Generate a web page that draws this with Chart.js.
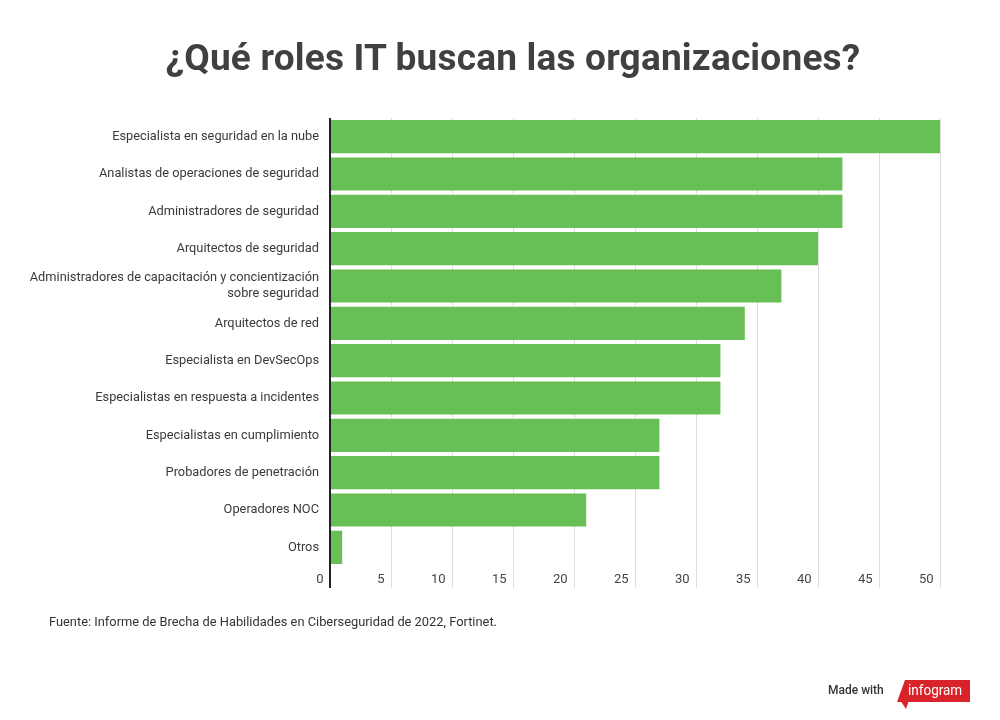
<!DOCTYPE html>
<html>
<head>
<meta charset="utf-8">
<script src="https://cdn.jsdelivr.net/npm/chart.js@4"></script>
<style>
  body { margin: 0; background: #fff; font-family: Roboto, sans-serif; }
  #wrap { position: relative; width: 1000px; height: 720px; overflow: hidden; }
  #title { position: absolute; top: 36px; left: 13px; width: 1000px; text-align: center;
           font: bold 37px Roboto, sans-serif; color: #404040; letter-spacing: 0.2px; }
  #source { position: absolute; left: 49px; top: 614px; font: 12.85px Roboto, sans-serif; color: #333; }
  #made { position: absolute; left: 828px; top: 683px; font: 500 12px Roboto, sans-serif; color: #333; }
  #logo { position: absolute; left: 897px; top: 680px; width: 73px; height: 22px; background: #d8232a;
          clip-path: polygon(8px 0, 73px 0, 73px 22px, 0 22px); }
  #tail { position: absolute; left: 900px; top: 700px; width: 0; height: 0; border-left: 6px solid transparent;
          border-right: 3px solid transparent; border-top: 9px solid #d8232a; }
  #logo span { position: absolute; left: 11px; top: 1px; font: 15px "Roboto", sans-serif; color: #fff; transform: scaleX(0.9); transform-origin: 0 0; }
  canvas { position: absolute; left: 0; top: 0; }
</style>
</head>
<body>
<div id="wrap">
  <canvas id="chart" width="1000" height="720"></canvas>
  <div id="title">¿Qué roles IT buscan las organizaciones?</div>
  <div id="source">Fuente: Informe de Brecha de Habilidades en Ciberseguridad de 2022, Fortinet.</div>
  <div id="made">Made with</div>
  <div id="logo"><span>infogram</span></div>
  <div id="tail"></div>
</div>
<script>
const roles = [
  "Especialista en seguridad en la nube",
  "Analistas de operaciones de seguridad",
  "Administradores de seguridad",
  "Arquitectos de seguridad",
  ["Administradores de capacitación y concientización", "sobre seguridad"],
  "Arquitectos de red",
  "Especialista en DevSecOps",
  "Especialistas en respuesta a incidentes",
  "Especialistas en cumplimiento",
  "Probadores de penetración",
  "Operadores NOC",
  "Otros"
];
const percentages = [50, 42, 42, 40, 37, 34, 32, 32, 27, 27, 21, 1];
const axisMin = 0;
const axisMax = 50;
const axisStep = 5;

const ctx = document.getElementById('chart').getContext('2d');

const chart = new Chart(ctx, {
  type: 'bar',
  data: {
    labels: roles,
    datasets: [{
      data: percentages,
      backgroundColor: '#67bf56',
      borderWidth: 0,
      barPercentage: 0.89,
      categoryPercentage: 1.0
    }]
  },
  options: {
    indexAxis: 'y',
    responsive: false,
    animation: false,
    layout: { padding: { top: 118, bottom: 114, left: 0, right: 60 } },
    plugins: {
      legend: { display: false },
      tooltip: { enabled: false }
    },
    scales: {
      x: {
        min: axisMin,
        max: axisMax,
        afterFit: (scale) => { scale.height = 40; },
        border: { display: false },
        grid: {
          color: (c) => (c.tick && c.tick.value === 0) ? '#222' : '#dcdcdc',
          lineWidth: (c) => (c.tick && c.tick.value === 0) ? 2 : 1,
          tickLength: 22
        },
        ticks: {
          stepSize: axisStep,
          align: 'end',
          padding: -16,
          maxRotation: 0,
          color: '#444',
          font: { family: 'Roboto', size: 13 },
          callback: (v) => v + '  '
        }
      },
      y: {
        afterFit: (scale) => { scale.width = 330; },
        border: { display: false },
        grid: { display: false, drawTicks: false },
        ticks: {
          padding: 11,
          color: '#3a3a3a',
          font: { family: 'Roboto', size: 12.8, lineHeight: 1.25 }
        }
      }
    }
  }
});
</script>
</body>
</html>
